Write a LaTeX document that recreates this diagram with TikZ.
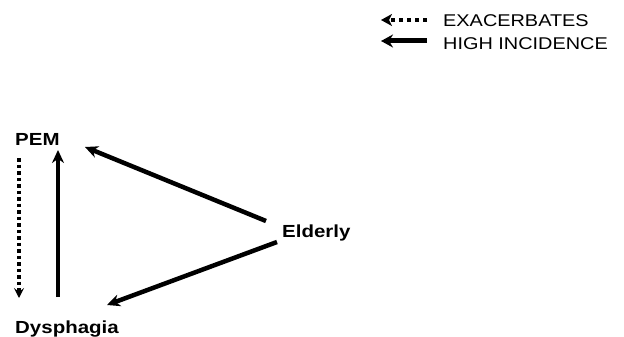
\documentclass[tikz,border=0pt]{standalone}
\usepackage{fontspec}
\setmainfont{Liberation Sans}
\usetikzlibrary{arrows.meta}
\newcommand{\wtxt}[1]{\scalebox{1.17}[1]{#1}}
\tikzset{
  lbl/.style={anchor=base west, inner sep=0pt, font=\fontsize{17.5}{19}\selectfont\bfseries},
  leg/.style={anchor=base west, inner sep=0pt, font=\fontsize{17}{19}\selectfont},
  solidarr/.style={line width=4pt, -{Stealth[length=13pt,width=12pt]}},
  dotarr/.style={line width=3.5pt, dash pattern=on 3.5pt off 3pt, -{Stealth[length=10pt,width=10pt,inset=4pt]}},
}
\begin{document}
\begin{tikzpicture}[x=1pt,y=-1pt]
\useasboundingbox (0,0) rectangle (624,337);
% labels
\node[lbl] (pem) at (15,145) {\wtxt{PEM}};
\node[lbl] (dys) at (15,333) {\wtxt{Dysphagia}};
\node[lbl] (eld) at (282,237) {\wtxt{Elderly}};
% legend
\node[leg] (ex) at (443,27) {\wtxt{EXACERBATES}};
\node[leg] (hi) at (443,50) {\wtxt{HIGH INCIDENCE}};
\coordinate (l1s) at (427,20);
\coordinate (l1e) at (381,20);
\coordinate (l2s) at (427,41);
\coordinate (l2e) at (381,41);
\draw[line width=4.5pt, dash pattern=on 4pt off 4pt, -{Stealth[length=11pt,width=12pt,inset=3pt]}] (l1s) -- (l1e);
\draw[line width=5pt, -{Stealth[length=12pt,width=13pt]}] (l2s) -- (l2e);
% connectors
\coordinate (a1s) at (58,297);
\coordinate (a1e) at (58,150);
\draw[solidarr] (a1s) -- (a1e);
\coordinate (a2s) at (19,158);
\coordinate (a2e) at (19,298);
\draw[dotarr] (a2s) -- (a2e);
\coordinate (a3s) at (266,221);
\coordinate (a3e) at (85,147);
\draw[solidarr, line width=4.5pt] (a3s) -- (a3e);
\coordinate (a4s) at (277,242);
\coordinate (a4e) at (107,305);
\draw[solidarr, line width=4.5pt] (a4s) -- (a4e);
\end{tikzpicture}
\end{document}
